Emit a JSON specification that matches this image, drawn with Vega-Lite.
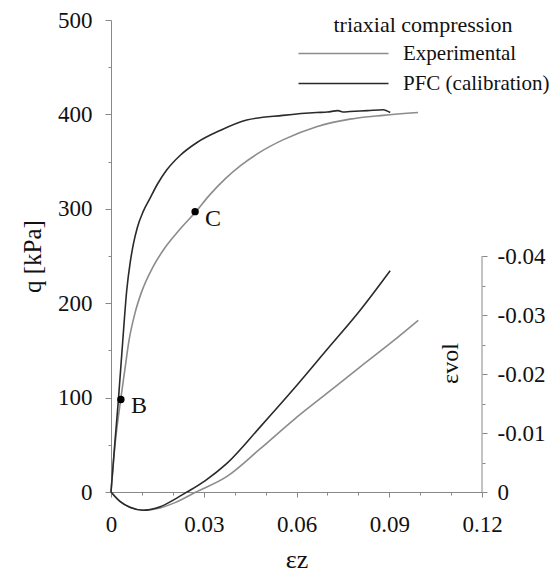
{
  "$schema": "https://vega.github.io/schema/vega-lite/v6.json",
  "width": 371,
  "height": 472,
  "autosize": {"type": "none"},
  "padding": {"left": 111, "top": 20, "right": 73, "bottom": 95},
  "background": "white",
  "config": {
    "font": "Liberation Serif",
    "view": {"stroke": null},
    "axis": {
      "grid": false,
      "domainColor": "#888",
      "domainWidth": 1,
      "tickColor": "#888",
      "labelColor": "#111",
      "titleColor": "#111",
      "labelFontSize": 23,
      "titleFontWeight": "normal",
      "labelFont": "Liberation Serif",
      "titleFont": "Liberation Serif"
    },
    "legend": {"labelFont": "Liberation Serif", "titleFont": "Liberation Serif"}
  },
  "datasets": {
    "q": [
      {"series": "Experimental", "ez": 0, "q": 0},
      {"series": "Experimental", "ez": 0.0013, "q": 50},
      {"series": "Experimental", "ez": 0.0031, "q": 97},
      {"series": "Experimental", "ez": 0.0045, "q": 130},
      {"series": "Experimental", "ez": 0.0058, "q": 160},
      {"series": "Experimental", "ez": 0.0078, "q": 190},
      {"series": "Experimental", "ez": 0.0099, "q": 212},
      {"series": "Experimental", "ez": 0.0135, "q": 238},
      {"series": "Experimental", "ez": 0.0175, "q": 259},
      {"series": "Experimental", "ez": 0.0222, "q": 278},
      {"series": "Experimental", "ez": 0.0272, "q": 296},
      {"series": "Experimental", "ez": 0.032, "q": 315},
      {"series": "Experimental", "ez": 0.037, "q": 332},
      {"series": "Experimental", "ez": 0.042, "q": 346},
      {"series": "Experimental", "ez": 0.0482, "q": 360},
      {"series": "Experimental", "ez": 0.0556, "q": 373},
      {"series": "Experimental", "ez": 0.0665, "q": 387},
      {"series": "Experimental", "ez": 0.0773, "q": 395},
      {"series": "Experimental", "ez": 0.088, "q": 399},
      {"series": "Experimental", "ez": 0.0993, "q": 402},
      {"series": "PFC (calibration)", "ez": 0, "q": 0},
      {"series": "PFC (calibration)", "ez": 0.0012, "q": 50},
      {"series": "PFC (calibration)", "ez": 0.0024, "q": 98},
      {"series": "PFC (calibration)", "ez": 0.0038, "q": 160},
      {"series": "PFC (calibration)", "ez": 0.0051, "q": 214},
      {"series": "PFC (calibration)", "ez": 0.0062, "q": 243},
      {"series": "PFC (calibration)", "ez": 0.0072, "q": 262},
      {"series": "PFC (calibration)", "ez": 0.0085, "q": 280},
      {"series": "PFC (calibration)", "ez": 0.0104, "q": 297},
      {"series": "PFC (calibration)", "ez": 0.0126, "q": 311},
      {"series": "PFC (calibration)", "ez": 0.015, "q": 326},
      {"series": "PFC (calibration)", "ez": 0.018, "q": 341},
      {"series": "PFC (calibration)", "ez": 0.0225, "q": 357},
      {"series": "PFC (calibration)", "ez": 0.0277, "q": 370},
      {"series": "PFC (calibration)", "ez": 0.0353, "q": 383},
      {"series": "PFC (calibration)", "ez": 0.0439, "q": 394},
      {"series": "PFC (calibration)", "ez": 0.0556, "q": 399},
      {"series": "PFC (calibration)", "ez": 0.0665, "q": 402},
      {"series": "PFC (calibration)", "ez": 0.07, "q": 402.5},
      {"series": "PFC (calibration)", "ez": 0.0734, "q": 404},
      {"series": "PFC (calibration)", "ez": 0.075, "q": 402.5},
      {"series": "PFC (calibration)", "ez": 0.0773, "q": 403},
      {"series": "PFC (calibration)", "ez": 0.083, "q": 404},
      {"series": "PFC (calibration)", "ez": 0.088, "q": 405},
      {"series": "PFC (calibration)", "ez": 0.0903, "q": 402}
    ],
    "ev": [
      {"series": "Experimental", "ez": 0, "ev": 0},
      {"series": "Experimental", "ez": 0.0029, "ev": 0.0016},
      {"series": "Experimental", "ez": 0.0061, "ev": 0.0026},
      {"series": "Experimental", "ez": 0.0104, "ev": 0.0031},
      {"series": "Experimental", "ez": 0.0159, "ev": 0.0027},
      {"series": "Experimental", "ez": 0.0207, "ev": 0.0018},
      {"series": "Experimental", "ez": 0.0275, "ev": 0},
      {"series": "Experimental", "ez": 0.0374, "ev": -0.0026},
      {"series": "Experimental", "ez": 0.0482, "ev": -0.0073},
      {"series": "Experimental", "ez": 0.059, "ev": -0.0122},
      {"series": "Experimental", "ez": 0.0698, "ev": -0.0167},
      {"series": "Experimental", "ez": 0.0806, "ev": -0.0212},
      {"series": "Experimental", "ez": 0.0913, "ev": -0.0256},
      {"series": "Experimental", "ez": 0.0994, "ev": -0.0291},
      {"series": "PFC (calibration)", "ez": 0, "ev": 0},
      {"series": "PFC (calibration)", "ez": 0.0029, "ev": 0.0016},
      {"series": "PFC (calibration)", "ez": 0.0061, "ev": 0.0026},
      {"series": "PFC (calibration)", "ez": 0.0104, "ev": 0.0031},
      {"series": "PFC (calibration)", "ez": 0.0159, "ev": 0.0025},
      {"series": "PFC (calibration)", "ez": 0.0207, "ev": 0.0012},
      {"series": "PFC (calibration)", "ez": 0.0246, "ev": 0},
      {"series": "PFC (calibration)", "ez": 0.0304, "ev": -0.0019},
      {"series": "PFC (calibration)", "ez": 0.0374, "ev": -0.0048},
      {"series": "PFC (calibration)", "ez": 0.0482, "ev": -0.011},
      {"series": "PFC (calibration)", "ez": 0.059, "ev": -0.0174},
      {"series": "PFC (calibration)", "ez": 0.0698, "ev": -0.0241},
      {"series": "PFC (calibration)", "ez": 0.0806, "ev": -0.0308},
      {"series": "PFC (calibration)", "ez": 0.0903, "ev": -0.0375}
    ],
    "pts": [
      {"label": "B", "ez": 0.0032, "q": 98},
      {"label": "C", "ez": 0.0272, "q": 297}
    ],
    "raxis": [
      {"ez": 0.12, "ev": 0, "ev2": -0.04}
    ]
  },
  "layer": [
    {
      "layer": [
        {
          "data": {"name": "q"},
          "mark": {"type": "line", "interpolate": "monotone", "strokeWidth": 1.6},
          "encoding": {
            "x": {
              "field": "ez", "type": "quantitative",
              "scale": {"domain": [0, 0.12], "nice": false, "zero": false},
              "axis": {
                "orient": "bottom",
                "values": [0, 0.03, 0.06, 0.09, 0.12],
                "labelExpr": "datum.value == 0 ? '0' : format(datum.value, '.2f')",
                "title": "εz",
                "titleFontSize": 26,
                "titlePadding": 10,
                "tickSize": 5,
                "labelPadding": 16,
                "labelFlush": false
              }
            },
            "y": {
              "field": "q", "type": "quantitative",
              "scale": {"domain": [0, 500], "nice": false},
              "axis": {
                "orient": "left",
                "values": [0, 100, 200, 300, 400, 500],
                "title": "q [kPa]",
                "titleFontSize": 25,
                "titlePadding": 12,
                "tickSize": 6,
                "labelPadding": 13,
                "labelFlush": false
              }
            },
            "stroke": {
              "field": "series", "type": "nominal",
              "scale": {"domain": ["Experimental", "PFC (calibration)"], "range": ["#8c8c8c", "#2a2a2a"]},
              "legend": {
                "orient": "none",
                "legendX": 186,
                "legendY": -5,
                "title": "triaxial compression",
                "titleFontSize": 22,
                "titleFontWeight": "normal",
                "titleColor": "#111",
                "titleAnchor": "middle",
                "titlePadding": 6,
                "labelFontSize": 21,
                "labelColor": "#111",
                "symbolType": "M-1,0H9",
                "symbolSize": 324,
                "symbolStrokeWidth": 1.6,
                "labelOffset": 85,
                "rowPadding": 8
              }
            }
          }
        },
        {
          "data": {"name": "pts"},
          "mark": {"type": "point", "filled": true, "size": 55, "color": "#000", "opacity": 1},
          "encoding": {
            "x": {
              "field": "ez", "type": "quantitative",
              "axis": {
                "orient": "bottom",
                "values": [0.01, 0.02, 0.04, 0.05, 0.07, 0.08, 0.1, 0.11],
                "labels": false, "domain": false, "title": null, "tickSize": 3
              }
            },
            "y": {
              "field": "q", "type": "quantitative",
              "axis": {
                "orient": "left",
                "values": [50, 150, 250, 350, 450],
                "labels": false, "domain": false, "title": null, "tickSize": 3
              }
            }
          }
        },
        {
          "data": {"name": "pts"},
          "mark": {"type": "text", "align": "left", "baseline": "middle", "dx": 10, "dy": 7, "fontSize": 24, "color": "#111"},
          "encoding": {
            "x": {"field": "ez", "type": "quantitative", "axis": null},
            "y": {"field": "q", "type": "quantitative", "axis": null},
            "text": {"field": "label"}
          }
        }
      ],
      "resolve": {"axis": {"x": "independent", "y": "independent"}}
    },
    {
      "layer": [
        {
          "data": {"name": "ev"},
          "mark": {"type": "line", "interpolate": "monotone", "strokeWidth": 1.6},
          "encoding": {
            "x": {"field": "ez", "type": "quantitative", "axis": null},
            "y": {
              "field": "ev", "type": "quantitative",
              "scale": {"domain": [0, -0.08], "nice": false, "zero": false},
              "axis": {
                "orient": "right",
                "values": [0, -0.01, -0.02, -0.03, -0.04],
                "labelExpr": "datum.value == 0 ? '0' : '-' + format(-datum.value, '.2f')",
                "domain": false,
                "tickSize": 5,
                "labelPadding": 10,
                "labelFlush": false,
                "title": "εvol",
                "titleFontSize": 24,
                "titleAngle": 270,
                "titleX": -32,
                "titleY": 343,
                "titleAlign": "center",
                "titleBaseline": "middle"
              }
            },
            "stroke": {"field": "series", "type": "nominal"}
          }
        },
        {
          "data": {"name": "raxis"},
          "mark": {"type": "rule", "color": "#888", "strokeWidth": 1},
          "encoding": {
            "x": {"field": "ez", "type": "quantitative", "axis": null},
            "y": {
              "field": "ev", "type": "quantitative",
              "axis": {
                "orient": "right",
                "values": [-0.005, -0.015, -0.025, -0.035],
                "labels": false, "domain": false, "title": null, "tickSize": 3
              }
            },
            "y2": {"field": "ev2"}
          }
        }
      ],
      "resolve": {"axis": {"y": "independent"}}
    }
  ],
  "resolve": {"scale": {"y": "independent"}, "axis": {"x": "independent"}}
}
